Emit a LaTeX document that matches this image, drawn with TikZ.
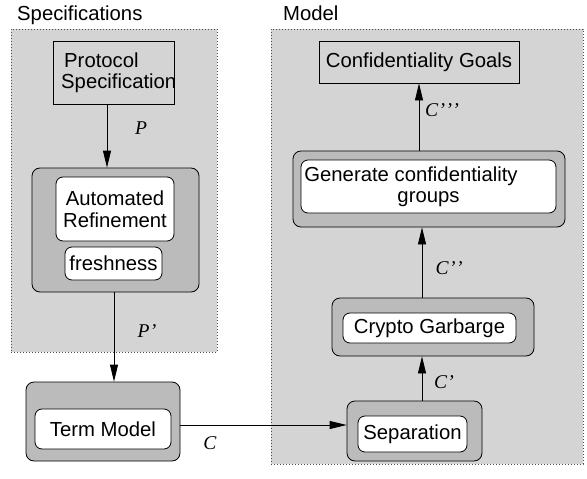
\documentclass[tikz,border=0pt]{standalone}
\usepackage{fontspec}
\setmainfont{Liberation Sans}
\newfontfamily\labfont{Liberation Serif}[Ligatures=TeX]
\usetikzlibrary{arrows.meta}
\definecolor{panelgray}{HTML}{D4D4D4}
\definecolor{outergray}{HTML}{BBBBBB}
\newcommand{\prm}{\kern0.5pt\textquoteright}
\tikzset{
  panel/.style={draw=gray!60!black, line width=0.8pt, dash pattern=on 0.9pt off 2.1pt, fill=panelgray, inner sep=0pt},
  plainbox/.style={draw=black, line width=0.8pt, fill=panelgray, inner sep=0pt},
  outerbox/.style={draw=black, line width=0.8pt, fill=outergray, rounded corners=8pt, inner sep=0pt},
  innerbox/.style={draw=black, line width=0.8pt, fill=white, rounded corners=7pt, inner sep=0pt},
  boxtext/.style={font=\fontsize{20.3}{21.5}\selectfont},
  arr/.style={draw=black, line width=0.8pt, -{Triangle[length=17pt,width=8pt]}},
  lab/.style={font=\labfont\itshape\fontsize{19.5}{21}\selectfont, inner sep=0pt},
  title/.style={font=\fontsize{20.3}{21.5}\selectfont, inner sep=0pt, anchor=base west}
}
\begin{document}
\begin{tikzpicture}[x=1pt,y=-1pt]
\useasboundingbox (0,0) rectangle (587,479);
% panels
\node[panel, minimum width=206pt, minimum height=323pt] (lpanel) at (114,190.5) {};
\node[panel, minimum width=312pt, minimum height=435pt] (rpanel) at (427,246.5) {};
\node[title] (spectitle) at (17,20) {Specifications};
\node[title] (modeltitle) at (283,20) {Model};
% left side
\node[plainbox, minimum width=121pt, minimum height=63pt] (proto) at (113.5,72.5) {};
\node[boxtext, align=left, anchor=west, inner sep=0pt] (prototext) at (61,73) {\hspace*{3pt}Protocol\\Specification};
\node[outerbox, minimum width=167pt, minimum height=124pt] (arouter) at (115.5,230) {};
\node[innerbox, boxtext, align=center, minimum width=118pt, minimum height=64pt] (arinner) at (115,209) {Automated\\Refinement};
\node[innerbox, boxtext, minimum width=97pt, minimum height=33pt] (fresh) at (113.5,263.5) {freshness};
\node[outerbox, minimum width=154pt, minimum height=79pt] (tmouter) at (103,421.5) {};
\node[innerbox, boxtext, minimum width=136pt, minimum height=40pt] (tminner) at (103,429) {Term Model};
% right side
\node[plainbox, boxtext, minimum width=200pt, minimum height=42pt] (goals) at (419,62) {Confidentiality Goals};
\node[outerbox, minimum width=272pt, minimum height=76pt] (genouter) at (429,189) {};
\node[innerbox, boxtext, align=center, minimum width=255pt, minimum height=53pt] (geninner) at (428.5,186.5) {\hspace*{-35pt}Generate confidentiality\\groups};
\node[outerbox, minimum width=202pt, minimum height=58pt] (cgouter) at (433,327) {};
\node[innerbox, boxtext, minimum width=173pt, minimum height=30pt] (cginner) at (429.5,328) {Crypto Garbarge};
\node[outerbox, minimum width=135pt, minimum height=60pt] (sepouter) at (414.5,431) {};
\node[innerbox, boxtext, minimum width=109pt, minimum height=36pt] (sepinner) at (412.5,434) {Separation};
% guide coordinates
\coordinate (xa) at (107,0);
\coordinate (xb) at (114,0);
\coordinate (yc) at (0,425);
\coordinate (xd) at (422,0);
\coordinate (xe) at (419,0);
% connectors
\draw[arr] (proto.south -| xa) -- (arouter.north -| xa);
\draw[arr] (arouter.south -| xb) -- (tmouter.north -| xb);
\draw[arr] (tmouter.east |- yc) -- (sepouter.west |- yc);
\draw[arr] (sepouter.north -| xd) -- (cgouter.south -| xd);
\draw[arr] (cgouter.north -| xd) -- (genouter.south -| xd);
\draw[arr] (genouter.north -| xe) -- (goals.south -| xe);
% labels
\node[lab] (lp) at (141,128) {P};
\node[lab] (lpp) at (147,331) {P\prm};
\node[lab] (lc) at (210,443) {C};
\node[lab] (lc1) at (444,382) {C\prm};
\node[lab] (lc2) at (449,268) {C\prm\prm};
\node[lab] (lc3) at (442,110) {C\prm\prm\prm};
\end{tikzpicture}
\end{document}
